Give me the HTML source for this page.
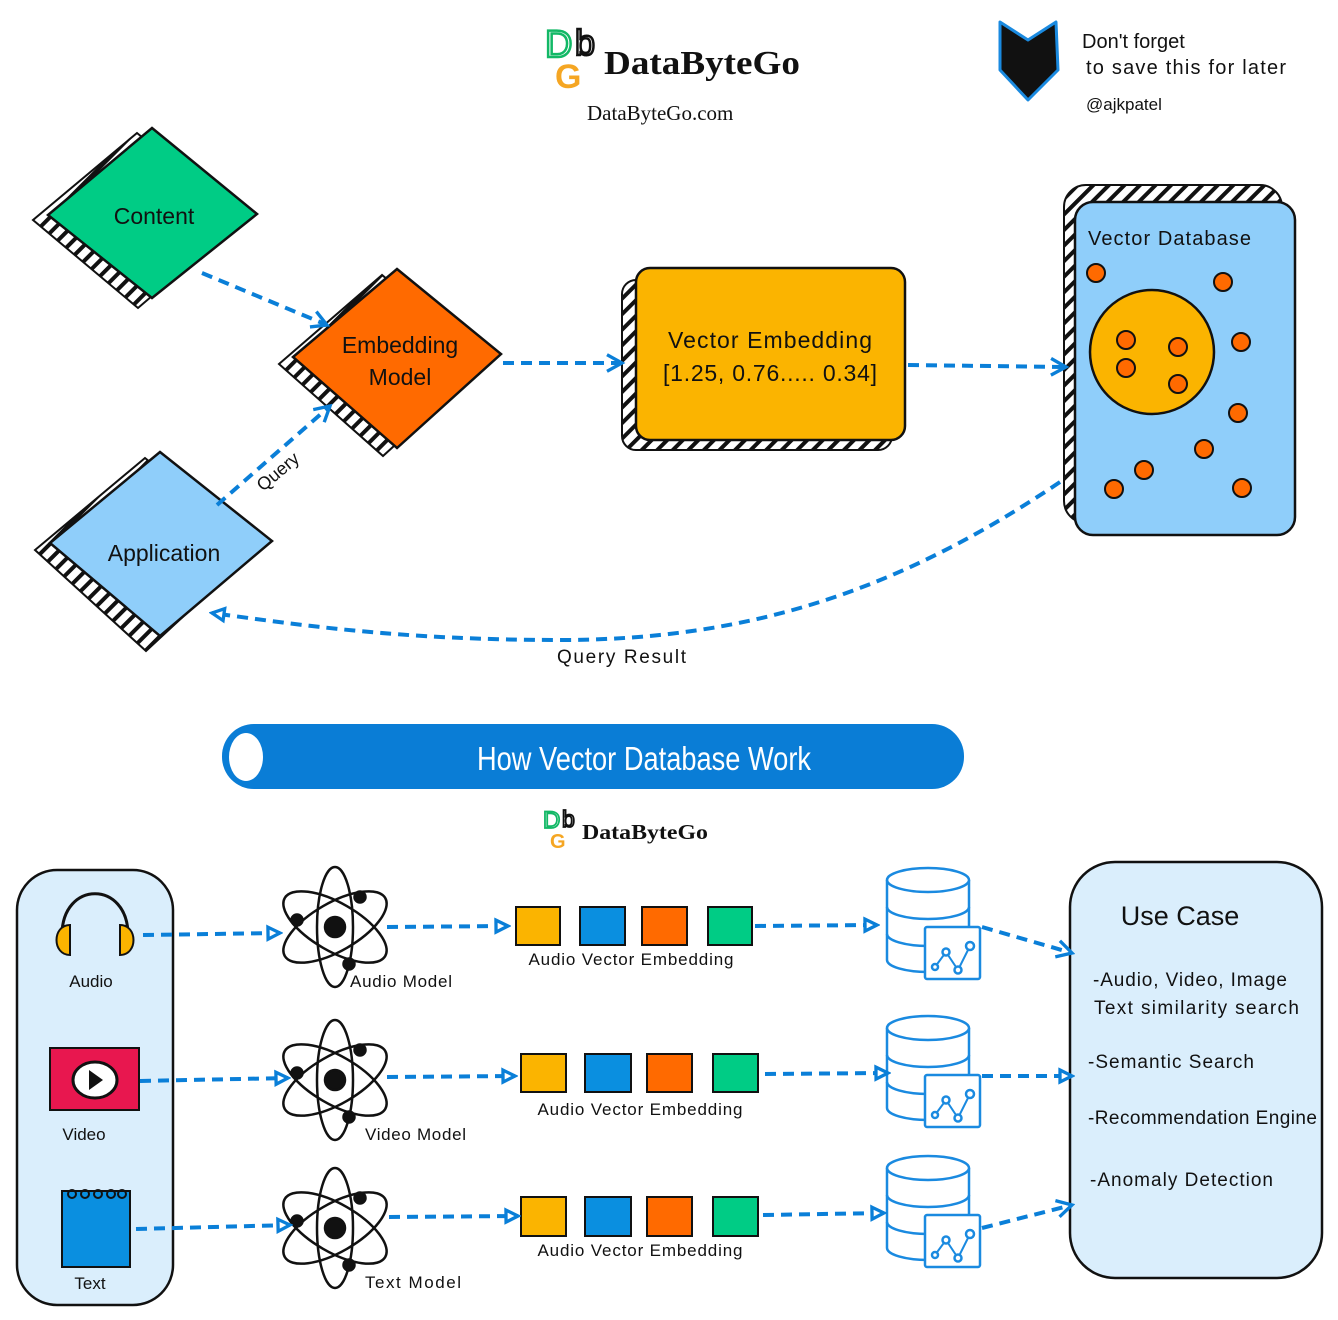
<!DOCTYPE html>
<html><head><meta charset="utf-8"><style>
html,body{margin:0;padding:0;background:#fff}
svg{display:block}
.h{font-family:"Liberation Sans","DejaVu Sans",sans-serif;fill:#111}
</style></head><body>
<svg width="1338" height="1320" viewBox="0 0 1338 1320" xmlns="http://www.w3.org/2000/svg">
<defs>
<pattern id="hatch" width="11" height="11" patternUnits="userSpaceOnUse" patternTransform="rotate(45)">
<rect width="11" height="11" fill="#fff"/><rect width="4" height="11" fill="#111"/>
</pattern>
<marker id="ah" viewBox="0 0 12 12" refX="10" refY="6" markerWidth="5" markerHeight="5" orient="auto" markerUnits="strokeWidth">
<path d="M1,1 L10,6 L1,11" fill="none" stroke="#0a7fd8" stroke-width="2"/></marker>
<marker id="tri" viewBox="0 0 12 12" refX="10" refY="6" markerWidth="4.5" markerHeight="4.5" orient="auto" markerUnits="strokeWidth">
<path d="M2,2 L10,6 L2,10 Z" fill="#fff" stroke="#0a7fd8" stroke-width="2.2"/></marker>
<g id="atom" fill="none" stroke="#111" stroke-width="2.5">
<ellipse cx="0" cy="0" rx="18" ry="60"/>
<ellipse cx="0" cy="0" rx="58" ry="24" transform="rotate(30)"/>
<ellipse cx="0" cy="0" rx="58" ry="24" transform="rotate(-30)"/>
<circle cx="0" cy="0" r="10" fill="#111"/>
<circle cx="-38" cy="-7" r="5.5" fill="#111"/>
<circle cx="25" cy="-30" r="5.5" fill="#111"/>
<circle cx="14" cy="37" r="5.5" fill="#111"/>
</g>
<g id="db" fill="#fff" stroke="#1a8ae0" stroke-width="2.5">
<path d="M-41,-42 V38 A41,12 0 0 0 41,38 V-42"/>
<path d="M-41,-15 A41,12 0 0 0 41,-15" fill="none"/>
<path d="M-41,12 A41,12 0 0 0 41,12" fill="none"/>
<ellipse cx="0" cy="-42" rx="41" ry="12"/>
<rect x="-3" y="5" width="55" height="52" rx="2"/>
<polyline points="7,45 18,30 30,48 42,24" fill="none" stroke-width="2"/>
<circle cx="7" cy="45" r="3"/><circle cx="18" cy="30" r="3.5"/><circle cx="30" cy="48" r="3.5"/><circle cx="42" cy="24" r="4"/>
</g>
</defs>

<!-- header logo -->
<text x="545" y="57" font-family="Liberation Sans,sans-serif" font-size="38" fill="none" stroke="#12b866" stroke-width="2.5">D</text>
<text x="575" y="55" font-family="Liberation Sans,sans-serif" font-size="36" fill="#fff" stroke="#111" stroke-width="2.5">b</text>
<text x="555" y="88" font-family="Liberation Sans,sans-serif" font-size="34" font-weight="bold" fill="#f5a623">G</text>
<text x="604" y="74" font-family="Liberation Serif,serif" font-size="34" font-weight="bold" fill="#111" textLength="196" lengthAdjust="spacingAndGlyphs">DataByteGo</text>
<text x="587" y="120" font-family="Liberation Serif,serif" font-size="21" fill="#111">DataByteGo.com</text>

<!-- bookmark -->
<path d="M1000,22 L1028,40 L1056,22 L1058,70 L1028,100 L1000,70 Z" fill="#111" stroke="#1a8ae0" stroke-width="3" stroke-linejoin="round"/>
<text class="h" x="1082" y="48" font-size="20">Don't forget</text>
<text class="h" x="1086" y="74" font-size="20" textLength="200">to save this for later</text>
<text class="h" x="1086" y="110" font-size="17">@ajkpatel</text>

<!-- Content diamond -->
<polygon points="137,133 33,220 138,308 242,219" fill="url(#hatch)" stroke="#111" stroke-width="2"/>
<polygon points="152,128 257,214 152,298 48,215" fill="#00cc85" stroke="#111" stroke-width="2.5"/>
<text class="h" x="154" y="224" font-size="23" text-anchor="middle">Content</text>

<!-- Embedding diamond -->
<polygon points="382,275 279,364 383,456 486,362" fill="url(#hatch)" stroke="#111" stroke-width="2"/>
<polygon points="397,269 501,354 397,448 293,357" fill="#ff6a00" stroke="#111" stroke-width="2.5"/>
<text class="h" x="400" y="353" font-size="23" text-anchor="middle">Embedding</text>
<text class="h" x="400" y="385" font-size="23" text-anchor="middle">Model</text>

<!-- Application diamond -->
<polygon points="145,458 35,550 146,651 257,548" fill="url(#hatch)" stroke="#111" stroke-width="2"/>
<polygon points="160,452 272,541 160,636 50,543" fill="#8fcefa" stroke="#111" stroke-width="2.5"/>
<text class="h" x="164" y="561" font-size="23" text-anchor="middle">Application</text>

<!-- Vector embedding -->
<rect x="622" y="280" width="270" height="170" rx="14" fill="url(#hatch)" stroke="#111" stroke-width="2"/>
<rect x="636" y="268" width="269" height="172" rx="14" fill="#fbb400" stroke="#111" stroke-width="2.5"/>
<text class="h" x="770" y="348" font-size="23" text-anchor="middle" textLength="204">Vector Embedding</text>
<text class="h" x="770" y="381" font-size="23" text-anchor="middle" textLength="214">[1.25, 0.76..... 0.34]</text>

<!-- Vector DB -->
<rect x="1064" y="185" width="218" height="338" rx="22" fill="url(#hatch)" stroke="#111" stroke-width="2"/>
<rect x="1075" y="202" width="220" height="333" rx="18" fill="#8fcefa" stroke="#111" stroke-width="2.5"/>
<text class="h" x="1088" y="245" font-size="20" textLength="163">Vector Database</text>
<circle cx="1152" cy="352" r="62" fill="#fbb400" stroke="#111" stroke-width="2.5"/>
<g fill="#ff6a00" stroke="#111" stroke-width="2">
<circle cx="1096" cy="273" r="9"/><circle cx="1223" cy="282" r="9"/><circle cx="1241" cy="342" r="9"/>
<circle cx="1126" cy="340" r="9"/><circle cx="1126" cy="368" r="9"/><circle cx="1178" cy="347" r="9"/>
<circle cx="1178" cy="384" r="9"/><circle cx="1238" cy="413" r="9"/><circle cx="1204" cy="449" r="9"/>
<circle cx="1144" cy="470" r="9"/><circle cx="1114" cy="489" r="9"/><circle cx="1242" cy="488" r="9"/>
</g>

<!-- top arrows -->
<g fill="none" stroke="#0a7fd8" stroke-width="4" stroke-dasharray="11 7">
<path d="M202,273 L327,325" marker-end="url(#ah)"/>
<path d="M217,505 L330,406" marker-end="url(#ah)"/>
<path d="M503,363 L622,363" marker-end="url(#ah)"/>
<path d="M908,365 L1066,367" marker-end="url(#ah)"/>
<path d="M1060,482 C900,590 750,640 560,640 C400,640 300,625 212,613" marker-end="url(#tri)"/>
</g>
<text class="h" x="0" y="0" font-size="18" transform="translate(263,492) rotate(-40)">Query</text>
<text class="h" x="557" y="663" font-size="19" textLength="129">Query Result</text>

<!-- banner -->
<rect x="222" y="724" width="742" height="65" rx="32" fill="#0a7dd6"/>
<ellipse cx="246" cy="757" rx="17" ry="24" fill="#fff"/>
<text x="644" y="770" font-family="Liberation Sans Narrow,Liberation Sans,sans-serif" font-size="33" fill="#fff" text-anchor="middle" textLength="334" lengthAdjust="spacingAndGlyphs">How Vector Database Work</text>

<!-- small logo -->
<text x="543" y="828" font-family="Liberation Sans,sans-serif" font-size="24" fill="none" stroke="#12b866" stroke-width="1.8">D</text>
<text x="562" y="827" font-family="Liberation Sans,sans-serif" font-size="23" fill="#fff" stroke="#111" stroke-width="1.8">b</text>
<text x="550" y="848" font-family="Liberation Sans,sans-serif" font-size="20" font-weight="bold" fill="#f5a623">G</text>
<text x="582" y="839" font-family="Liberation Serif,serif" font-size="21" font-weight="bold" fill="#111" textLength="126" lengthAdjust="spacingAndGlyphs">DataByteGo</text>

<!-- left panel -->
<rect x="17" y="870" width="156" height="435" rx="40" fill="#daeefc" stroke="#111" stroke-width="2.5"/>
<path d="M62,935 C62,880 128,880 128,935" fill="none" stroke="#111" stroke-width="3"/>
<path d="M70,925 v30 c-18,0 -18,-30 0,-30z" fill="#fbb400" stroke="#111" stroke-width="2"/>
<path d="M120,925 v30 c18,0 18,-30 0,-30z" fill="#fbb400" stroke="#111" stroke-width="2"/>
<text class="h" x="91" y="987" font-size="17" text-anchor="middle">Audio</text>
<rect x="50" y="1048" width="89" height="62" fill="#e8174f" stroke="#111" stroke-width="2"/>
<ellipse cx="95" cy="1080" rx="22" ry="18" fill="#fff" stroke="#111" stroke-width="3"/>
<path d="M89,1070 L103,1080 L89,1090 Z" fill="#111"/>
<text class="h" x="84" y="1140" font-size="17" text-anchor="middle">Video</text>
<rect x="62" y="1191" width="68" height="76" fill="#0a8fe0" stroke="#111" stroke-width="2"/>
<g fill="none" stroke="#111" stroke-width="2"><circle cx="72" cy="1194" r="4"/><circle cx="85" cy="1194" r="4"/><circle cx="98" cy="1194" r="4"/><circle cx="111" cy="1194" r="4"/><circle cx="122" cy="1194" r="4"/></g>
<text class="h" x="90" y="1289" font-size="17" text-anchor="middle">Text</text>

<!-- atoms -->
<use href="#atom" x="335" y="927"/>
<use href="#atom" x="335" y="1080"/>
<use href="#atom" x="335" y="1228"/>
<text class="h" x="350" y="987" font-size="17" textLength="102">Audio Model</text>
<text class="h" x="365" y="1140" font-size="17" textLength="101">Video Model</text>
<text class="h" x="365" y="1288" font-size="17" textLength="96">Text Model</text>

<!-- squares -->
<g stroke="#111" stroke-width="2">
<rect x="516" y="907" width="44" height="38" fill="#fbb400"/><rect x="580" y="907" width="45" height="38" fill="#0a8fe0"/><rect x="642" y="907" width="45" height="38" fill="#ff6a00"/><rect x="708" y="907" width="44" height="38" fill="#00cc85"/>
<rect x="521" y="1054" width="45" height="38" fill="#fbb400"/><rect x="585" y="1054" width="46" height="38" fill="#0a8fe0"/><rect x="647" y="1054" width="45" height="38" fill="#ff6a00"/><rect x="713" y="1054" width="45" height="38" fill="#00cc85"/>
<rect x="521" y="1197" width="45" height="39" fill="#fbb400"/><rect x="585" y="1197" width="46" height="39" fill="#0a8fe0"/><rect x="647" y="1197" width="45" height="39" fill="#ff6a00"/><rect x="713" y="1197" width="45" height="39" fill="#00cc85"/>
</g>
<text class="h" x="631" y="965" font-size="17" text-anchor="middle" textLength="205">Audio Vector Embedding</text>
<text class="h" x="640" y="1115" font-size="17" text-anchor="middle" textLength="205">Audio Vector Embedding</text>
<text class="h" x="640" y="1256" font-size="17" text-anchor="middle" textLength="205">Audio Vector Embedding</text>

<!-- DBs -->
<use href="#db" x="928" y="922"/>
<use href="#db" x="928" y="1070"/>
<use href="#db" x="928" y="1210"/>

<!-- use case -->
<rect x="1070" y="862" width="252" height="416" rx="45" fill="#daeefc" stroke="#111" stroke-width="2.5"/>
<text class="h" x="1180" y="925" font-size="27" text-anchor="middle">Use Case</text>
<text class="h" x="1093" y="986" font-size="19" textLength="194">-Audio, Video, Image</text>
<text class="h" x="1094" y="1014" font-size="19" textLength="205">Text similarity search</text>
<text class="h" x="1088" y="1068" font-size="19" textLength="166">-Semantic Search</text>
<text class="h" x="1088" y="1124" font-size="19" textLength="229">-Recommendation Engine</text>
<text class="h" x="1090" y="1186" font-size="19" textLength="183">-Anomaly Detection</text>

<!-- bottom arrows -->
<g fill="none" stroke="#0a7fd8" stroke-width="4" stroke-dasharray="11 7">
<path d="M143,935 L280,933" marker-end="url(#tri)"/>
<path d="M140,1081 L288,1078" marker-end="url(#tri)"/>
<path d="M136,1229 L290,1225" marker-end="url(#tri)"/>
<path d="M387,927 L508,926" marker-end="url(#tri)"/>
<path d="M387,1077 L515,1076" marker-end="url(#tri)"/>
<path d="M389,1217 L518,1216" marker-end="url(#tri)"/>
<path d="M755,926 L877,925" marker-end="url(#tri)"/>
<path d="M765,1074 L888,1073" marker-end="url(#tri)"/>
<path d="M763,1215 L884,1213" marker-end="url(#tri)"/>
<path d="M982,927 L1072,953" marker-end="url(#ah)"/>
<path d="M982,1076 L1072,1076" marker-end="url(#tri)"/>
<path d="M982,1228 L1072,1205" marker-end="url(#ah)"/>
</g>
</svg>
</body></html>
